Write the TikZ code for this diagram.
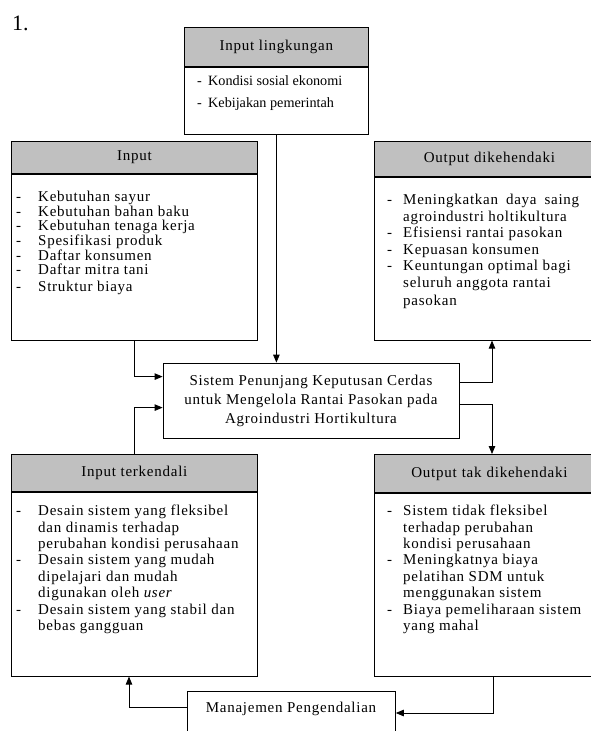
\documentclass[tikz,border=0pt]{standalone}
\usepackage{fontspec}
\setmainfont{Liberation Serif}[LetterSpace=5]
\newfontfamily\numfont{Liberation Serif}
\usetikzlibrary{arrows.meta,calc}
\definecolor{hgray}{RGB}{192,192,192}
\newcommand\itmA[1]{\makebox[22pt][l]{-}#1}
\newcommand\cntA[1]{\hspace*{22pt}#1}
\newcommand\itmB[1]{\makebox[16pt][l]{-}#1}
\newcommand\cntB[1]{\hspace*{16pt}#1}
\newcommand\itmC[1]{\makebox[11pt][l]{-}#1}
\begin{document}
\begin{tikzpicture}[x=1pt,y=-1pt,
  frame/.style={draw=black, line width=0.8pt, rectangle, inner sep=0pt, anchor=north west},
  hdr/.style={frame, fill=hgray, font=\fontsize{15}{17}\selectfont},
  txt/.style={inner sep=0pt, anchor=north west, align=left},
  arr/.style={draw=black, line width=0.8pt, -{Triangle[length=8pt,width=6.5pt]}}]
\useasboundingbox (0,0) rectangle (590,731);
\fill[white] (0,0) rectangle (590,731);

\node[inner sep=0pt, anchor=west, font=\numfont\fontsize{22}{24}\selectfont] (num) at (12,23) {1.};

% Input lingkungan
\node[hdr, minimum width=184pt, minimum height=39pt] (lingH) at (184,27) {Input lingkungan};
\node[frame, minimum width=184pt, minimum height=67pt] (lingB) at (lingH.south west) {};
\node[txt, font=\numfont\fontsize{14.2}{22}\selectfont] (lingT) at (197,75.5)
  {\itmC{Kondisi sosial ekonomi}\\ \itmC{Kebijakan pemerintah}};

% Input
\node[hdr, minimum width=246pt, minimum height=32pt] (inH) at (11,141) {Input};
\node[frame, minimum width=246pt, minimum height=166pt] (inB) at (inH.south west) {};
\node[txt, font=\fontsize{15}{14.6}\selectfont] (inT) at (16,191)
  {\itmA{Kebutuhan sayur}\\ \itmA{Kebutuhan bahan baku}\\ \itmA{Kebutuhan tenaga kerja}\\
   \itmA{Spesifikasi produk}\\ \itmA{Daftar konsumen}\\ \itmA{Daftar mitra tani}\\[2.4pt]
   \itmA{Struktur biaya}};

% Output dikehendaki
\node[hdr, minimum width=230pt, minimum height=35pt, text width=214pt, align=center] (odH) at (374,141) {Output dikehendaki};
\node[frame, minimum width=230pt, minimum height=163pt] (odB) at (odH.south west) {};
\node[txt, font=\fontsize{15}{16.5}\selectfont] (odT) at (387,194)
  {\itmB{\makebox[176pt][s]{Meningkatkan daya saing}}\\ \cntB{agroindustri holtikultura}\\
   \itmB{Efisiensi rantai pasokan}\\ \itmB{Kepuasan konsumen}\\
   \itmB{Keuntungan optimal bagi}\\ \cntB{seluruh anggota rantai}\\[1.5pt] \cntB{pasokan}};

% System
\node[frame, anchor=center, minimum width=296pt, minimum height=75pt, align=center,
  font=\fontsize{15}{19}\selectfont] (sys) at (311,400.5)
  {Sistem Penunjang Keputusan Cerdas\\ untuk Mengelola Rantai Pasokan pada\\ Agroindustri Hortikultura};

% Input terkendali
\node[hdr, minimum width=246pt, minimum height=37pt] (tkH) at (11,454) {Input terkendali};
\node[frame, minimum width=246pt, minimum height=184pt] (tkB) at (tkH.south west) {};
\node[txt, font=\fontsize{15}{16.4}\selectfont] (tkT) at (16,505)
  {\itmA{Desain sistem yang fleksibel}\\ \cntA{dan dinamis terhadap}\\ \cntA{perubahan kondisi perusahaan}\\
   \itmA{Desain sistem yang mudah}\\ \cntA{dipelajari dan mudah}\\ \cntA{digunakan oleh \textit{user}}\\
   \itmA{Desain sistem yang stabil dan}\\ \cntA{bebas gangguan}};

% Output tak dikehendaki
\node[hdr, minimum width=230pt, minimum height=38pt, text width=214pt, align=center] (otH) at (374,454) {Output tak dikehendaki};
\node[frame, minimum width=230pt, minimum height=183pt] (otB) at (otH.south west) {};
\node[txt, font=\fontsize{15}{16.4}\selectfont] (otT) at (387,505)
  {\itmB{Sistem tidak fleksibel}\\ \cntB{terhadap perubahan}\\ \cntB{kondisi perusahaan}\\
   \itmB{Meningkatnya biaya}\\ \cntB{pelatihan SDM untuk}\\ \cntB{menggunakan sistem}\\
   \itmB{Biaya pemeliharaan sistem}\\ \cntB{yang mahal}};

% Manajemen Pengendalian
\node[frame, minimum width=208pt, minimum height=70pt] (mg) at (187,691) {};
\node[inner sep=0pt, anchor=center, font=\fontsize{15}{17}\selectfont] (mgT) at (291,709) {Manajemen Pengendalian};

% connectors
\coordinate (sysIn1) at ($(sys.north west)+(0,14)$);
\coordinate (sysIn2) at ($(sys.north west)+(0,45)$);
\coordinate (sysOut1) at ($(sys.north east)+(0,20)$);
\coordinate (sysOut2) at ($(sys.north east)+(0,42)$);
\coordinate (odIn) at ($(odB.south west)+(118,0)$);
\coordinate (otIn) at ($(otH.north west)+(118,0)$);
\coordinate (otOut) at ($(otB.south west)+(119,0)$);
\coordinate (mgIn) at ($(mg.north east)+(0,22)$);
\coordinate (mgOut) at ($(mg.north west)+(0,16)$);
\coordinate (tkIn) at ($(tkB.south west)+(118,0)$);

\draw[arr] (lingB.south) -- (lingB.south |- sys.north);
\draw[arr] (inB.south) |- (sysIn1);
\draw[arr] (tkH.north) |- (sysIn2);
\draw[arr] (sysOut1) -| (odIn);
\draw[arr] (sysOut2) -| (otIn);
\draw[arr] (otOut) |- (mgIn);
\draw[arr] (mgOut) -| (tkIn);
\end{tikzpicture}
\end{document}
